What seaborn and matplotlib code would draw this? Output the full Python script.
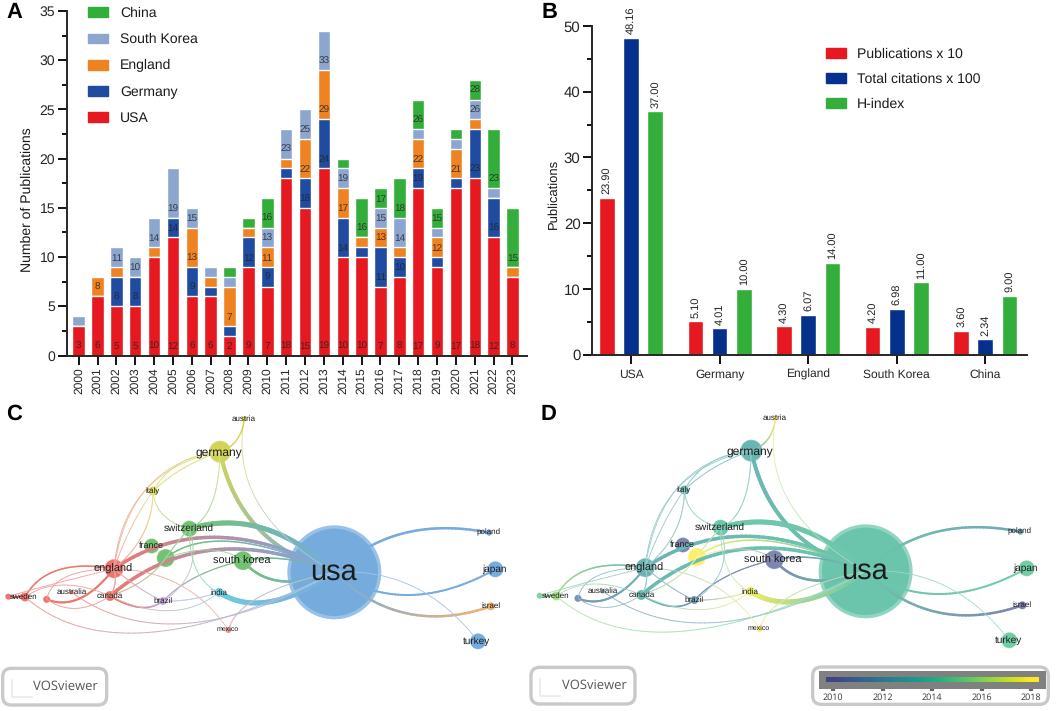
import numpy as np
import pandas as pd
import seaborn as sns
import matplotlib
matplotlib.use('Agg')
import matplotlib.pyplot as plt
from matplotlib.collections import LineCollection
from matplotlib.colors import LinearSegmentedColormap, to_rgb
from matplotlib.patches import FancyBboxPatch, Patch
from matplotlib.ticker import MultipleLocator

# panel A, publications per year (segment heights)
years = list(range(2000, 2024))
usa = [3, 6, 5, 5, 10, 12, 6, 6, 2, 9, 7, 18, 15, 19, 10, 10, 7, 8, 17, 9, 17, 18, 12, 8]
germany = [0, 0, 3, 3, 0, 2, 3, 1, 1, 3, 2, 1, 3, 5, 4, 1, 4, 2, 2, 1, 1, 5, 4, 0]
england = [0, 2, 1, 0, 1, 0, 4, 1, 4, 1, 2, 1, 4, 5, 3, 1, 2, 1, 3, 2, 3, 1, 0, 1]
south_korea = [1, 0, 2, 2, 3, 5, 2, 1, 1, 0, 2, 3, 3, 4, 2, 0, 2, 3, 1, 1, 1, 2, 1, 0]
china = [0, 0, 0, 0, 0, 0, 0, 0, 1, 1, 3, 0, 0, 0, 1, 4, 2, 4, 3, 2, 1, 2, 6, 6]

# panel B
countries = ['USA', 'Germany', 'England', 'South Korea', 'China']
publications = [23.90, 5.10, 4.30, 4.20, 3.60]
citations = [48.16, 4.01, 6.07, 6.98, 2.34]
h_index = [37.00, 10.00, 14.00, 11.00, 9.00]

# panels C and D, network
node_names = ['usa', 'germany', 'austria', 'italy', 'switzerland', 'france', 'n1', 'england',
              'south korea', 'canada', 'australia', 'sweden', 'n2', 'n3', 'brazil', 'india',
              'mexico', 'poland', 'japan', 'israel', 'turkey']
node_x = [1003, 660, 733, 459, 568, 455, 497, 342, 729, 330, 215, 75, 25, 140, 489, 657, 685, 1467, 1486, 1473, 1434]
node_y = [517, 155, 57, 273, 386, 438, 474, 506, 482, 588, 577, 591, 590, 598, 603, 577, 690, 398, 508, 619, 724]
node_diam = [94, 22, 5, 9, 16, 15, 18, 19, 19, 10, 4, 9, 6, 7, 8, 9, 6, 6, 16, 8, 16]
node_cluster = ['#6FA8DC', '#CFD34F', '#D8D245', '#D6D64F', '#6CC06C', '#6CC06C', '#6CC06C', '#EC6F68',
                '#6CC06C', '#EC6F68', '#EC6F68', '#EC6F68', '#EC6F68', '#EC6F68', '#BFA3D6', '#66C9DC',
                '#EC8F88', '#6FA8DC', '#6FA8DC', '#F2B06A', '#6FA8DC']
node_year = [2014.0, 2013.0, 2018, 2013.2, 2014.2, 2010.2, 2018, 2012.9, 2010.2, 2013.3, 2011, 2016, 2015,
             2010.9, 2011.4, 2017.6, 2018, 2012.3, 2014.5, 2009.9, 2014.5]

label_text = ['usa', 'germany', 'austria', 'italy', 'switzerland', 'france', 'england', 'south korea',
              'canada', 'australia', 'sweden', 'brazil', 'india', 'mexico', 'poland', 'japan', 'israel', 'turkey']
label_x = [1001, 657, 730, 458, 565, 454, 338, 725, 330, 214, 72, 489, 656, 683, 1466, 1482, 1472, 1430]
label_y = [517, 157, 58, 274, 386, 438, 506, 482, 587, 577, 591, 603, 578, 688, 398, 508, 619, 724]
label_size = [20.6, 8.3, 5.6, 5.8, 7.2, 6.6, 7.9, 7.8, 6.1, 5.5, 5.9, 5.8, 6.0, 5.4, 5.6, 7.3, 5.9, 7.4]

link_src = ['germany', 'switzerland', 'england', 'n1', 'canada', 'south korea', 'south korea', 'india',
            'mexico', 'brazil', 'usa', 'usa', 'usa', 'usa', 'sweden', 'australia', 'austria', 'germany',
            'germany', 'germany', 'germany', 'germany', 'germany', 'italy', 'italy', 'italy', 'england',
            'england', 'england', 'england', 'canada', 'canada', 'england', 'england', 'canada', 'brazil',
            'switzerland', 'switzerland', 'india', 'mexico', 'switzerland', 'n1', 'n1', 'n2']
link_dst = ['usa', 'usa', 'usa', 'usa', 'usa', 'usa', 'usa', 'usa',
            'usa', 'south korea', 'poland', 'japan', 'israel', 'turkey', 'usa', 'usa', 'usa', 'austria',
            'italy', 'italy', 'england', 'england', 'switzerland', 'switzerland', 'england', 'england', 'sweden',
            'n2', 'n3', 'n3', 'sweden', 'n3', 'canada', 'brazil', 'brazil', 'india',
            'india', 'brazil', 'canada', 'england', 'n1', 'south korea', 'canada', 'sweden']
link_width = [4, 5, 3.5, 1.5, 3.5, 1.5, 2.5, 5,
              1, 1.2, 2.5, 2, 2.5, 0.8, 1, 1, 0.8, 1.2,
              1, 1, 0.8, 0.8, 1, 0.8, 1, 0.8, 1.5,
              0.8, 0.8, 2, 0.8, 0.8, 1, 1, 1.5, 1,
              0.8, 0.8, 0.8, 0.8, 1, 0.8, 1, 1.5]
link_via_x = [775, 790, 650, 700, 640, 860, 840, 810,
              780, 590, 1210, 1230, 1220, 1240, 450, 560, 775, 710,
              540, 550, 445, 435, 635, 490, 430, 395, 175,
              130, 200, 240, 190, 230, 345, 420, 420, 570,
              590, 570, 510, 540, 530, 630, 430, 50]
link_via_y = [385, 385, 412, 425, 450, 478, 543, 605,
              590, 530, 400, 585, 640, 560, 697, 670, 310, 120,
              190, 205, 260, 272, 310, 345, 400, 380, 510,
              560, 530, 595, 555, 625, 550, 565, 622, 598,
              510, 510, 632, 555, 430, 450, 540, 591]

scale_years = [2010, 2012, 2014, 2016, 2018]

RED = '#E5191F'
GREEN = '#34AE3B'

sns.set_theme(style='ticks')
plt.rcParams['font.family'] = ['Liberation Sans', 'DejaVu Sans']
plt.rcParams['text.hinting'] = 'no_hinting'
plt.rcParams['text.hinting_factor'] = 1
plt.rcParams['axes.linewidth'] = 1.4
plt.rcParams['text.color'] = '#1A1A1A'
plt.rcParams['axes.labelcolor'] = '#1A1A1A'

W, H = 1056, 711
fig = plt.figure(figsize=(W / 100, H / 100), dpi=100)


def px_axes(left, top, right, bottom):
    return fig.add_axes([left / W, 1 - bottom / H, (right - left) / W, (bottom - top) / H])


def style_axis(ax):
    sns.despine(ax=ax)
    ax.tick_params(axis='both', which='major', width=1.4, length=6.5, color='#111111', pad=2)
    ax.tick_params(axis='y', which='minor', width=1.4, length=3.6, color='#111111', left=True)
    ax.tick_params(axis='x', which='minor', bottom=False)


# ---- A: stacked bars, the tallest cumulative series is drawn first
ax_a = px_axes(67, 11, 527, 355.5)
stack_names = ['USA', 'Germany', 'England', 'South Korea', 'China']
stack_values = [usa, germany, england, south_korea, china]
stack_colors = [RED, '#1F4BA0', '#F08321', '#8CA6CF', GREEN]
tops = np.cumsum(np.array(stack_values), axis=0)
for i in range(4, -1, -1):
    frame = pd.DataFrame({'year': years, 'total': tops[i]})
    sns.barplot(data=frame, x='year', y='total', color=stack_colors[i], saturation=1, width=0.66, ax=ax_a)

# the labels hold the running total, sat near the base of each segment
for i, vals in enumerate(stack_values):
    for j, v in enumerate(vals):
        if v >= 2:
            ax_a.text(j, tops[i][j] - v + 0.9, str(tops[i][j]), ha='center', va='center',
                      fontsize=7, color='#222222', alpha=0.8)

ax_a.set_xlim(-0.62, 23.77)
ax_a.set_ylim(0, 35)
ax_a.yaxis.set_major_locator(MultipleLocator(5))
ax_a.yaxis.set_minor_locator(MultipleLocator(2.5))
style_axis(ax_a)
ax_a.tick_params(axis='y', labelsize=10)
ax_a.tick_params(axis='x', labelsize=8.7, labelrotation=90)
ax_a.set_xlabel('')
ax_a.set_ylabel('Number of Publications', fontsize=10)
ax_a.yaxis.set_label_coords((34 - 67) / 460, 0.451)
handles = [Patch(color=stack_colors[i], label=stack_names[i]) for i in range(4, -1, -1)]
ax_a.legend(handles=handles, loc='upper left', bbox_to_anchor=(88 / W, 1 - 7 / H), bbox_transform=fig.transFigure,
            frameon=False, fontsize=10, borderpad=0, borderaxespad=0, handlelength=1.44, handleheight=0.72,
            handletextpad=0.85, labelspacing=0.945)

# ---- B: grouped bars
ax_b = px_axes(592.3, 26, 1027, 354.7)
series_names = ['Publications x 10', 'Total citations x 100', 'H-index']
df_b = pd.DataFrame({'country': countries * 3,
                     'series': np.repeat(series_names, 5),
                     'value': publications + citations + h_index})
b_colors = dict(zip(series_names, [RED, '#05318D', GREEN]))
sns.barplot(data=df_b, x='country', y='value', hue='series', palette=b_colors, saturation=1,
            width=0.82, gap=0.35, legend=False, ax=ax_b)
for bars in ax_b.containers:
    ax_b.bar_label(bars, fmt='%.2f', rotation=90, padding=2.6, fontsize=7.7, color='#222222')
ax_b.set_xlim(-0.437, 4.47)
ax_b.set_ylim(0, 50)
ax_b.yaxis.set_major_locator(MultipleLocator(10))
ax_b.yaxis.set_minor_locator(MultipleLocator(5))
style_axis(ax_b)
ax_b.tick_params(axis='y', labelsize=10.5)
ax_b.tick_params(axis='x', labelsize=8.9, pad=4)
ax_b.set_xlabel('')
ax_b.set_ylabel('Publications', fontsize=9.6)
ax_b.yaxis.set_label_coords((560 - 592.3) / 434.7, 0.489)
handles = [Patch(color=b_colors[s], label=s) for s in series_names]
ax_b.legend(handles=handles, loc='upper left', bbox_to_anchor=(825.7 / W, 1 - 47.4 / H), bbox_transform=fig.transFigure,
            frameon=False, fontsize=10, borderpad=0, borderaxespad=0, handlelength=1.44, handleheight=0.72,
            handletextpad=0.8, labelspacing=0.865)


# ---- C and D: the network, in crop coordinates (3 units per pixel)
def mix_white(c, amount):
    return tuple(np.array(to_rgb(c)) * (1 - amount) + amount)


def draw_network(ax, colors, core_alpha=0.85):
    pos = {n: np.array([x, y], dtype=float) for n, x, y in zip(node_names, node_x, node_y)}
    col = dict(zip(node_names, colors))
    df = pd.DataFrame({'name': node_names, 'x': node_x, 'y': node_y})
    outer = {n: (d * 0.72) ** 2 for n, d in zip(node_names, node_diam)}
    inner = {n: (d * 0.72 * 0.93) ** 2 for n, d in zip(node_names, node_diam)}
    sns.scatterplot(data=df, x='x', y='y', hue='name', palette=col, size='name', sizes=outer,
                    alpha=0.7, linewidth=0, legend=False, ax=ax, zorder=1)
    sns.scatterplot(data=df, x='x', y='y', hue='name', palette=col, size='name', sizes=inner,
                    alpha=core_alpha, linewidth=0, legend=False, ax=ax, zorder=1.1)
    t = np.linspace(0, 1, 50)[:, None]
    for a, b, w, vx, vy in zip(link_src, link_dst, link_width, link_via_x, link_via_y):
        ctrl = 2 * np.array([vx, vy]) - (pos[a] + pos[b]) / 2
        pts = (1 - t) ** 2 * pos[a] + 2 * t * (1 - t) * ctrl + t ** 2 * pos[b]
        segs = np.stack([pts[:-1], pts[1:]], axis=1)
        c0, c1 = np.array(to_rgb(col[a])), np.array(to_rgb(col[b]))
        pale = 0.35 if w < 1.2 else 0.05
        seg_cols = [mix_white((1 - s) * c0 + s * c1, pale) for s in t[:-1, 0]]
        ax.add_collection(LineCollection(segs, colors=seg_cols, linewidths=w * 0.72, capstyle='round', zorder=2))
    for s, x, y, fs in zip(label_text, label_x, label_y, label_size):
        ax.text(x, y, s, ha='center', va='center', fontsize=fs, color='#1C1C1C', zorder=5)
    ax.set_xlim(0, 1590)
    ax.set_ylim(933, 0)
    ax.axis('off')


def rounded_box(ax, x0, y0, x1, y1):
    ax.add_patch(FancyBboxPatch((x0, y0), x1 - x0, y1 - y0, boxstyle='round,pad=0,rounding_size=26',
                                fc='white', ec='#C9C9C9', lw=2.4, clip_on=False, zorder=3))


def vos_box(ax, x0):
    rounded_box(ax, x0, 805, x0 + 312, 915)
    ax.plot([x0 + 27, x0 + 27, x0 + 87], [840, 890, 890], color='#EDEDED', lw=1.5, zorder=4)
    ax.text(x0 + 92, 860, 'VOSviewer', fontsize=9.2, family=['Open Sans', 'DejaVu Sans'],
            color='#555555', va='center', zorder=4)


ax_c = fig.add_axes([0, 1 - 711 / H, 530 / W, 311 / H])
draw_network(ax_c, node_cluster)
vos_box(ax_c, 8)

cmap = LinearSegmentedColormap.from_list('vos', sns.color_palette('viridis', as_cmap=True)(np.linspace(0.2, 1, 256)))
year_colors = [mix_white(cmap((y - 2010) / 8), 0.3) for y in node_year]
ax_d = fig.add_axes([531.3 / W, 1 - 710 / H, 530 / W, 311 / H])
draw_network(ax_d, year_colors)
vos_box(ax_d, -1)
rounded_box(ax_d, 844, 804, 1551, 916)

# the year scale
ax_s = px_axes(819, 671, 1046, 689)
ax_s.set_facecolor('#808080')
ramp = np.linspace(2009.7, 2018.3, 200)[None, :]
ax_s.imshow(ramp, extent=(2009.7, 2018.3, 6.5, 11.5), cmap=cmap, vmin=2010, vmax=2018, aspect='auto', zorder=2)
ax_s.set_xlim(2009.43, 2018.6)
ax_s.set_ylim(18, 0)
ax_s.set_yticks([])
ax_s.set_xticks(scale_years)
ax_s.set_xticklabels(scale_years, fontsize=6.4, family=['Open Sans', 'DejaVu Sans'], color='#333333')
ax_s.tick_params(axis='x', length=1.5, width=3, color='#666666', pad=1.5)
for side in ax_s.spines.values():
    side.set_visible(False)

# panel letters
for letter, x, y in [('A', 14, 12.5), ('B', 549, 12.5), ('C', 14, 414.5), ('D', 548.5, 414.5)]:
    fig.text(x / W, 1 - y / H, letter, fontsize=15.5, fontweight='bold', color='black', ha='center', va='center')

fig.savefig('out.png', dpi=100)
plt.close(fig)
